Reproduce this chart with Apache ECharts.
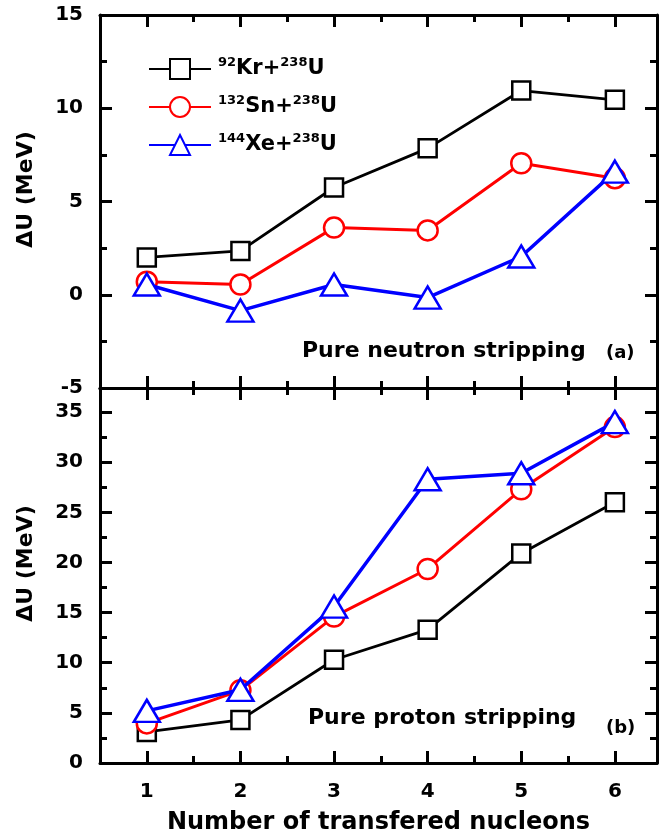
<!DOCTYPE html>
<html>
<head>
<meta charset="utf-8">
<script src="https://cdn.jsdelivr.net/npm/echarts@6/dist/echarts.min.js"></script>
<style>
  html, body { margin: 0; padding: 0; background: #fff; }
  #chart { width: 659px; height: 839px; }
</style>
</head>
<body>
<div id="chart"></div>
<script>
// 转移核子数
const nucleons = [1, 2, 3, 4, 5, 6]
// (a) 纯中子剥离
const neutronKr = [2.0, 2.35, 5.75, 7.85, 10.95, 10.45]
const neutronSn = [0.7, 0.55, 3.6, 3.45, 7.05, 6.25]
const neutronXe = [0.55, -0.85, 0.55, -0.15, 2.05, 6.6]
// (b) 纯质子剥离
const protonKr = [3.1, 4.3, 10.3, 13.3, 20.9, 26.0]
const protonSn = [3.95, 7.25, 14.6, 19.35, 27.3, 33.5]
const protonXe = [5.2, 7.3, 15.6, 28.3, 28.9, 34.0]
const seriesNames = ['92Kr+238U', '132Sn+238U', '144Xe+238U']
// 刻度
const xMajor = [1, 2, 3, 4, 5, 6]
const xMinor = [1.5, 2.5, 3.5, 4.5, 5.5]
const yMajorA = [-5, 0, 5, 10, 15]
const yMinorA = [-2.5, 2.5, 7.5, 12.5]
const yMajorB = [0, 5, 10, 15, 20, 25, 30, 35]
const yMinorB = [2.5, 7.5, 12.5, 17.5, 22.5, 27.5, 32.5]

const font = 'DejaVu Sans'
const black = '#000'

function tick(len, values) {
  return { show: true, inside: true, length: len, customValues: values, lineStyle: { color: black, width: 3 } }
}

//每个网格4根x轴：主刻度下/上，次刻度下/上
function makeX(g) {
  const base = {
    gridIndex: g, type: 'value', min: 0.5, max: 6.45,
    splitLine: { show: false },
    axisLine: { show: true, onZero: false, lineStyle: { color: black, width: 3 } },
    axisLabel: { show: false }
  }
  const bottom = Object.assign({}, base, { position: 'bottom', axisTick: tick(12, xMajor) })
  if (g === 1) {
    bottom.axisLabel = { show: true, customValues: xMajor, fontFamily: font, fontWeight: 'bold', fontSize: 20, color: black, margin: 19 }
    bottom.name = 'Number of transfered nucleons'
    bottom.nameLocation = 'middle'
    bottom.nameGap = 48
    bottom.nameTextStyle = { fontFamily: font, fontWeight: 'bold', fontSize: 24, color: black }
  }
  return [
    bottom,
    Object.assign({}, base, { position: 'top', axisTick: tick(12, xMajor) }),
    Object.assign({}, base, { position: 'bottom', axisLine: { show: false, onZero: false }, axisTick: tick(7, xMinor) }),
    Object.assign({}, base, { position: 'top', axisLine: { show: false, onZero: false }, axisTick: tick(7, xMinor) })
  ]
}

function makeY(g, min, max, major, minor) {
  const base = {
    gridIndex: g, type: 'value', min: min, max: max,
    splitLine: { show: false },
    axisLine: { show: true, onZero: false, lineStyle: { color: black, width: 3 } },
    axisLabel: { show: false }
  }
  return [
    Object.assign({}, base, {
      position: 'left', axisTick: tick(12, major),
      axisLabel: { show: true, customValues: major, fontFamily: font, fontWeight: 'bold', fontSize: 20, color: black, margin: 17 },
      name: 'ΔU (MeV)', nameLocation: 'middle', nameGap: 63,
      nameTextStyle: { fontFamily: font, fontWeight: 'bold', fontSize: 22, color: black, padding: [0, 0, 0, 24] }
    }),
    Object.assign({}, base, { position: 'right', axisTick: tick(12, major) }),
    Object.assign({}, base, { position: 'left', axisLine: { show: false, onZero: false }, axisTick: tick(7, minor) }),
    Object.assign({}, base, { position: 'right', axisLine: { show: false, onZero: false }, axisTick: tick(7, minor) })
  ]
}

const styles = [
  { symbol: 'rect', size: 18, color: '#000000', width: 2.8 },
  { symbol: 'circle', size: 20, color: '#ff0000', width: 3 },
  { symbol: 'triangle', size: [26, 22], color: '#0000ff', width: 3.5 }
]

function makeSeries(idx, ys, g) {
  const s = styles[idx]
  return {
    name: seriesNames[idx],
    type: 'line',
    xAxisIndex: g * 4,
    yAxisIndex: g * 4,
    data: nucleons.map((x, i) => [x, ys[i]]),
    symbol: s.symbol,
    symbolSize: s.size,
    lineStyle: { color: s.color, width: s.width },
    itemStyle: { color: '#fff', borderColor: s.color, borderWidth: 2.5 },
    emphasis: { disabled: true },
    z: 2 + idx
  }
}

const chart = echarts.init(document.getElementById('chart'))
const option = {
  animation: false,
  backgroundColor: '#fff',
  grid: [
    { left: 100, right: 2, top: 15, height: 373 },
    { left: 100, right: 2, top: 388, height: 375 }
  ],
  xAxis: makeX(0).concat(makeX(1)),
  yAxis: makeY(0, -5, 15, yMajorA, yMinorA).concat(makeY(1, 0, 37.4, yMajorB, yMinorB)),
  legend: {
    orient: 'vertical',
    left: 143,
    top: 51,
    itemWidth: 62,
    itemHeight: 25,
    itemGap: 14,
    data: seriesNames,
    formatter: name => {
      const m = name.match(/^(\d+)([A-Za-z]+\+)(\d+)([A-Za-z]+)$/)
      return `{sup|${m[1]}}{big|${m[2]}}{sup|${m[3]}}{big|${m[4]}}`
    },
    textStyle: {
      padding: [0, 0, 0, 2],
      rich: {
        big: { fontFamily: font, fontWeight: 'bold', fontSize: 21, lineHeight: 26, color: black },
        sup: { fontFamily: font, fontWeight: 'bold', fontSize: 13, lineHeight: 14, verticalAlign: 'top', color: black }
      }
    }
  },
  graphic: [
    { type: 'text', left: 302, top: 340, style: { text: 'Pure neutron stripping', font: `bold 22px "${font}"`, fill: black } },
    { type: 'text', left: 606, top: 344, style: { text: '(a)', font: `bold 18px "${font}"`, fill: black } },
    { type: 'text', left: 308, top: 707, style: { text: 'Pure proton stripping', font: `bold 22px "${font}"`, fill: black } },
    { type: 'text', left: 606, top: 719, style: { text: '(b)', font: `bold 18px "${font}"`, fill: black } }
  ],
  series: [
    makeSeries(0, neutronKr, 0),
    makeSeries(1, neutronSn, 0),
    makeSeries(2, neutronXe, 0),
    makeSeries(0, protonKr, 1),
    makeSeries(1, protonSn, 1),
    makeSeries(2, protonXe, 1)
  ]
}
option && chart.setOption(option)
</script>
</body>
</html>
